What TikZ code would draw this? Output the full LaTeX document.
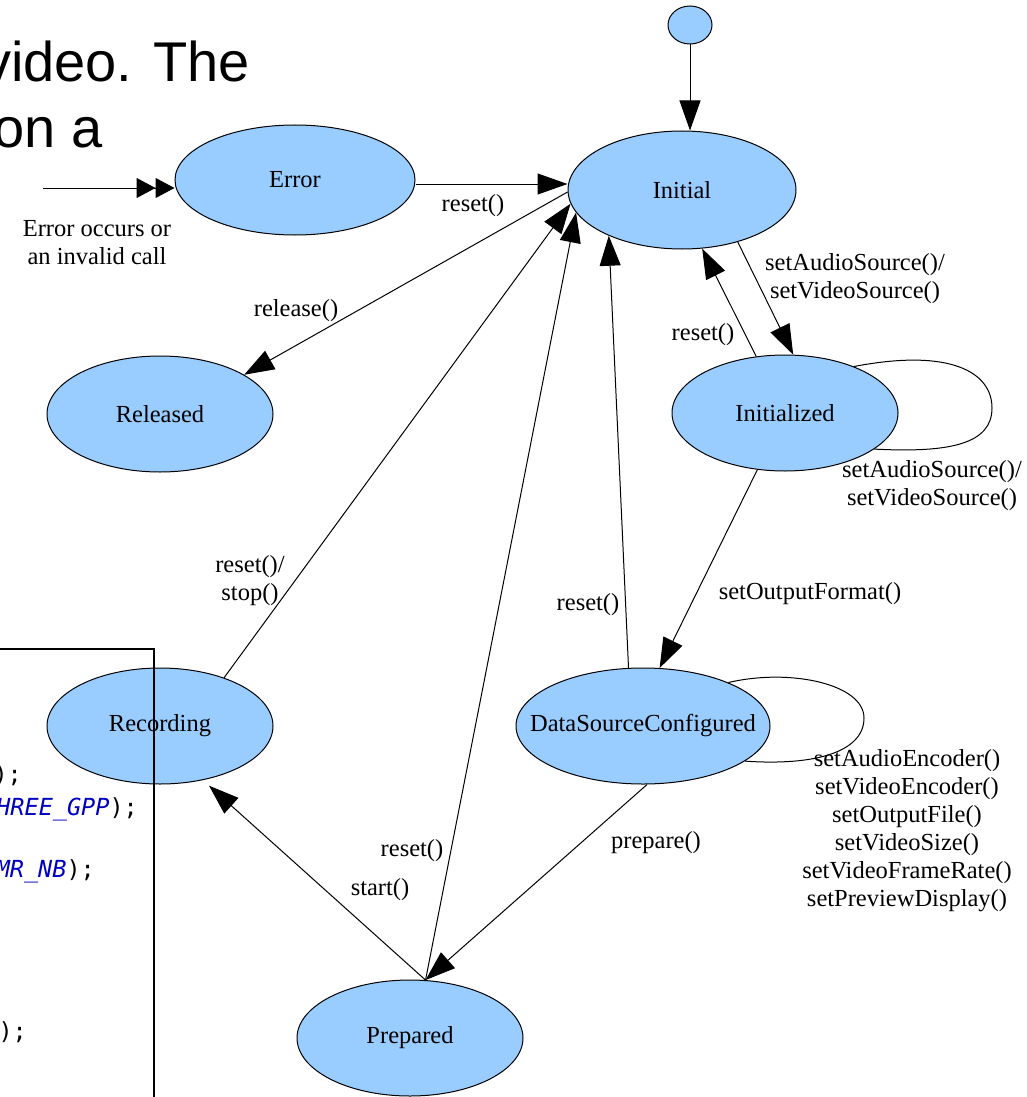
\documentclass[tikz,border=0pt]{standalone}
\usepackage{fontspec}
\setmainfont{Liberation Serif}
\newfontfamily\titlefont{Liberation Sans}
\newfontfamily\codefont{DejaVu Sans Mono}
\usetikzlibrary{shapes.geometric,arrows.meta}

\definecolor{statefill}{RGB}{153,204,255}
\definecolor{codeblue}{RGB}{0,0,192}

\begin{document}
\begin{tikzpicture}[x=1pt,y=-1pt,
  state/.style={ellipse, draw=black, line width=1pt, fill=statefill, inner sep=0pt,
    minimum width=226pt, minimum height=116pt, font=\fontsize{24.5}{28}\selectfont},
  lbl/.style={inner sep=0pt, align=center, font=\fontsize{24.5}{28}\selectfont},
  trans/.style={line width=1pt, -{Triangle[length=30pt,width=21pt]}},
  selfloop/.style={line width=1pt},
  codeline/.style={anchor=base east, inner sep=0pt, font=\codefont\fontsize{23.5}{31}\selectfont},
  titleline/.style={anchor=base east, inner sep=0pt, font=\titlefont\fontsize{56}{63}\selectfont}]

\useasboundingbox (0,0) rectangle (1027,1097);
\clip (0,0) rectangle (1027,1097);
\fill[white] (0,0) rectangle (1027,1097);

% heading text running in from the left
\node[titleline] (title1) at (250,82) {video. The};
\node[titleline] (title2) at (103,147) {on a};

% states
\node[state, minimum width=44pt, minimum height=38pt] (start) at (690,25) {};
\node[state, minimum width=228pt, minimum height=118pt] (init) at (682,190) {Initial};
\node[state, minimum width=240pt, minimum height=110pt] (err) at (295,180) {Error};
\node[state] (rel) at (160,414) {Released};
\node[state] (initd) at (785,413) {Initialized};
\node[state, minimum width=254pt] (dsc) at (643,726) {\makebox[0pt]{DataSourceConfigured}};
\node[state] (rec) at (160,726) {Recording};
\node[state] (prep) at (410,1038) {Prepared};

\coordinate (entry) at (43,188);

% transitions
\draw[trans] (start.south) -- (init.north -| start.south);
\draw[line width=1pt, -{Triangle[length=19pt,width=20pt]Triangle[length=19pt,width=20pt]}]
  (entry) -- (entry -| err.west);
\draw[trans] ([yshift=-4pt]err.east) -- ([yshift=-4pt]err.east -| init.west);
\draw[trans] (init.181) -- (rel.25);
\draw[trans] (rec.37) -- (init.187);
\draw[trans] (prep.75) -- (init.192);
\draw[trans] (dsc.104) -- (init.212);
\draw[trans] (init.-43) -- (initd.82);
\draw[trans] (initd.117) -- (init.-71);
\draw[trans] (initd.244) -- (dsc.74);
\draw[trans] (dsc.-86) -- (prep.75);
\draw[trans] (prep.75) -- ([shift={(4pt,-6pt)}]rec.-50);

% self loops
\draw[selfloop] (initd.34) .. controls (950,348) and (992,372) .. (992,408)
  .. controls (992,444) and (950,453) .. (initd.-22);
\draw[selfloop] (dsc.27) .. controls (790,668) and (864,684) .. (864,718)
  .. controls (864,752) and (815,766) .. (dsc.-19);

% transition labels
\node[lbl] (lErrIn) at (97,243) {Error occurs or\\an invalid call};
\node[lbl] (lReset1) at (473,206) {reset()};
\node[lbl] (lRelease) at (296,311) {release()};
\node[lbl] (lSetSrc) at (855,279) {setAudioSource()/\\setVideoSource()};
\node[lbl] (lReset2) at (703,335) {reset()};
\node[lbl] (lLoop1) at (932,486) {setAudioSource()/\\setVideoSource()};
\node[lbl] (lOutFmt) at (810,594) {setOutputFormat()};
\node[lbl] (lReset3) at (588,605) {reset()};
\node[lbl] (lStop) at (250,581) {reset()/\\stop()};
\node[lbl] (lReset4) at (412,851) {reset()};
\node[lbl] (lStart) at (380,890) {start()};
\node[lbl] (lPrepare) at (656,843) {prepare()};
\node[lbl] (lLoop2) at (907,831) {setAudioEncoder()\\setVideoEncoder()\\setOutputFile()\\setVideoSize()\\setVideoFrameRate()\\setPreviewDisplay()};

% code listing panel on the left
\node[codeline] (code1) at (22,782) {);};
\node[codeline] (code2) at (138,815) {{\itshape\color{codeblue}HREE\_GPP});};
\node[codeline] (code3) at (95,877) {{\itshape\color{codeblue}MR\_NB});};
\node[codeline] (code4) at (27,1039) {);};
\draw[line width=2pt] (-5,649) -- (154,649) -- (154,1105);
\end{tikzpicture}
\end{document}
